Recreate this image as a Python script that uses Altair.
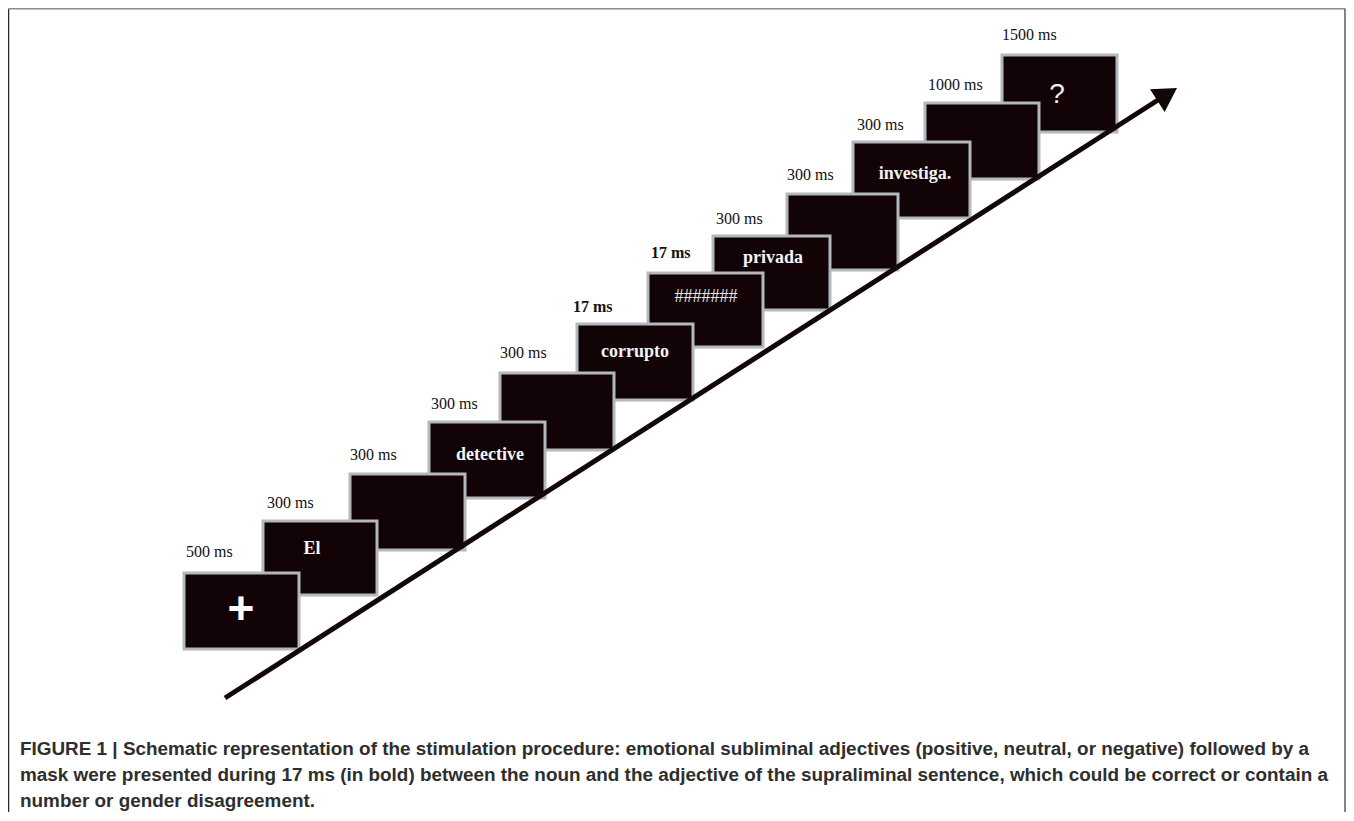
import math
import altair as alt
import pandas as pd

# ---- data (figure pixel coordinates) ----
box_left = [184, 263, 350, 429, 500, 577, 648, 713, 787, 853, 925, 1002]
box_right = [299, 377, 465, 545, 614, 693, 763, 830, 898, 970, 1039, 1117]
box_top = [573, 521, 474, 422, 373, 324, 273, 236, 194, 142, 103, 55]
box_bottom = [649, 595, 550, 498, 450, 400, 347, 310, 270, 218, 179, 132]

durations = ["500 ms", "300 ms", "300 ms", "300 ms", "300 ms", "17 ms", "17 ms",
             "300 ms", "300 ms", "300 ms", "1000 ms", "1500 ms"]
dur_bold = [False, False, False, False, False, True, True,
            False, False, False, False, False]
dur_x = [186, 267, 350, 431, 500, 573, 651, 716, 787, 857, 928, 1002]
dur_y = [552, 503, 455, 404, 353, 307, 253, 219, 175, 125, 85, 35]

words = ["El", "detective", "corrupto", "privada", "investiga."]
words_x = [312, 490, 635, 773, 915]
words_y = [554, 460, 357, 263, 179]

mask_text = ["#######"]
mask_x = [706]
mask_y = [302]

symbols = ["+", "?"]
symbols_x = [241, 1057]
symbols_y = [610, 95]
symbols_size = [46, 28]

arrow_x = [225, 1158]
arrow_y = [698, 100]
arrow_tip = (1177, 88)

caption = [
    "FIGURE 1 | Schematic representation of the stimulation procedure: emotional subliminal adjectives (positive, neutral, or negative) followed by a",
    "mask were presented during 17 ms (in bold) between the noun and the adjective of the supraliminal sentence, which could be correct or contain a",
    "number or gender disagreement.",
]
caption_x = [20, 20, 20]
caption_y = [755, 781, 807]  # baselines

frame_x = [8.5, 8.5, 1345]
frame_x2 = [8.5, 1345, 1345]
frame_y = [8.75, 8.75, 8.75]
frame_y2 = [830, 8.75, 830]
frame_col = ["#2a2a2a", "#8a8a8a", "#5a5a5a"]

# ---- build ----
W, H = 1338, 804
xs = alt.Scale(domain=[8, 8 + W], nice=False, zero=False)
ys = alt.Scale(domain=[8 + H, 8], nice=False, zero=False)

boxes = pd.DataFrame({"l": box_left, "r": box_right, "t": box_top, "b": box_bottom,
                      "i": list(range(len(box_left)))})
boxes = boxes.iloc[::-1].reset_index(drop=True)  # earlier screens drawn on top

dur = pd.DataFrame({"label": durations, "bold": dur_bold, "x": dur_x, "y": dur_y})
wd = pd.DataFrame({"w": words, "x": words_x, "y": words_y})
md = pd.DataFrame({"w": mask_text, "x": mask_x, "y": mask_y})
sd = pd.DataFrame({"w": symbols, "x": symbols_x, "y": symbols_y, "s": symbols_size})
ad = pd.DataFrame({"x": arrow_x, "y": arrow_y})
cd = pd.DataFrame({"t": caption, "x": caption_x, "y": caption_y})
fd = pd.DataFrame({"x": frame_x, "x2": frame_x2, "y": frame_y, "y2": frame_y2, "c": frame_col})

noax = dict(axis=None)

rects = alt.Chart(boxes).mark_rect(fill="#110306", stroke="#b4b8bd", strokeWidth=3).encode(
    x=alt.X("l:Q", scale=xs, **noax), x2="r:Q",
    y=alt.Y("t:Q", scale=ys, **noax), y2="b:Q",
)

dur_reg = alt.Chart(dur[~dur["bold"]]).mark_text(
    font="Liberation Serif", fontSize=16, align="left", baseline="middle", color="#111111"
).encode(x=alt.X("x:Q", scale=xs, **noax), y=alt.Y("y:Q", scale=ys, **noax), text="label:N")

dur_b = alt.Chart(dur[dur["bold"]]).mark_text(
    font="Liberation Serif", fontSize=16, fontWeight="bold", align="left", baseline="middle",
    color="#111111"
).encode(x=alt.X("x:Q", scale=xs, **noax), y=alt.Y("y:Q", scale=ys, **noax), text="label:N")

word_l = alt.Chart(wd).mark_text(
    font="Liberation Serif", fontSize=18, fontWeight="bold", align="center",
    baseline="alphabetic", color="#f4f4f4"
).encode(x=alt.X("x:Q", scale=xs, **noax), y=alt.Y("y:Q", scale=ys, **noax), text="w:N")

mask_l = alt.Chart(md).mark_text(
    font="Liberation Serif", fontSize=18, align="center", baseline="alphabetic", color="#e8e8e8"
).encode(x=alt.X("x:Q", scale=xs, **noax), y=alt.Y("y:Q", scale=ys, **noax), text="w:N")

sym_plus = alt.Chart(sd.iloc[[0]]).mark_text(
    font="Liberation Sans", fontSize=46, fontWeight="bold", align="center", baseline="middle",
    color="#ffffff"
).encode(x=alt.X("x:Q", scale=xs, **noax), y=alt.Y("y:Q", scale=ys, **noax), text="w:N")

sym_q = alt.Chart(sd.iloc[[1]]).mark_text(
    font="Liberation Sans", fontSize=28, align="center", baseline="middle", color="#f0f0f0"
).encode(x=alt.X("x:Q", scale=xs, **noax), y=alt.Y("y:Q", scale=ys, **noax), text="w:N")

line = alt.Chart(ad).mark_line(color="#120808", strokeWidth=5, strokeCap="butt").encode(
    x=alt.X("x:Q", scale=xs, **noax), y=alt.Y("y:Q", scale=ys, **noax)
)

dx = arrow_tip[0] - arrow_x[0]
dy = arrow_tip[1] - arrow_y[0]
L = math.hypot(dx, dy)
ux, uy = dx / L, dy / L
side = 27
hh = side * math.sqrt(3) / 2
head = pd.DataFrame({"x": [arrow_tip[0] - ux * hh / 2], "y": [arrow_tip[1] - uy * hh / 2]})
ang = math.degrees(math.atan2(dy, dx)) + 90
head_l = alt.Chart(head).mark_point(
    shape="triangle-up", size=side * side, filled=True, color="#120808", opacity=1,
    angle=ang, strokeWidth=0
).encode(x=alt.X("x:Q", scale=xs, **noax), y=alt.Y("y:Q", scale=ys, **noax))

cap = alt.Chart(cd).mark_text(
    font="Liberation Sans", fontSize=18.9, fontWeight="bold", align="left",
    baseline="alphabetic", color="#2e2e2e"
).encode(x=alt.X("x:Q", scale=xs, **noax), y=alt.Y("y:Q", scale=ys, **noax), text="t:N")

frame = alt.Chart(fd).mark_rule(strokeWidth=1.5).encode(
    x=alt.X("x:Q", scale=xs, **noax), x2="x2:Q",
    y=alt.Y("y:Q", scale=ys, **noax), y2="y2:Q",
    color=alt.Color("c:N", scale=None),
)

chart = alt.layer(
    frame, rects, line, head_l, dur_reg, dur_b, word_l, mask_l, sym_plus, sym_q, cap
).properties(
    width=W, height=H, padding=0, autosize=alt.AutoSizeParams(type="none"),
    background="white",
).configure_view(stroke=None)

chart.save("out.html", embed_options={"renderer": "svg", "actions": False})
